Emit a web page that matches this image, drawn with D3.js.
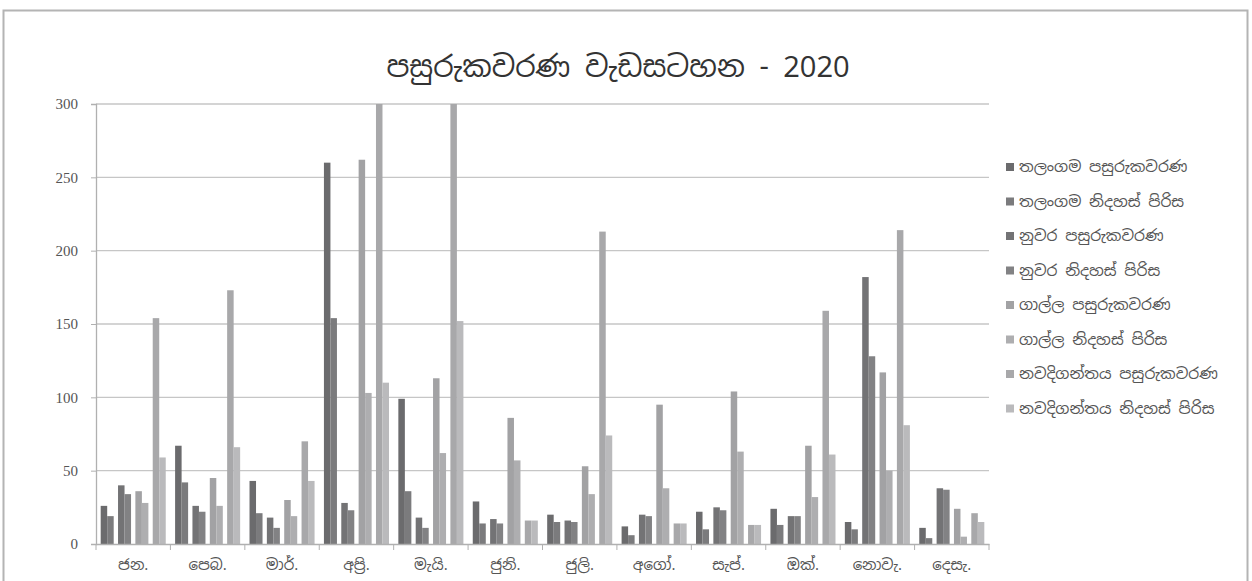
<!DOCTYPE html>
<html>
<head>
<meta charset="utf-8">
<script src="https://cdn.jsdelivr.net/npm/d3@7"></script>
<style>
  body { margin: 0; background: #fff; }
  svg text { font-family: "Noto Sans Sinhala", "Iskoola Pota", "Noto Sans", "DejaVu Sans", sans-serif; }
</style>
</head>
<body>
<svg id="chart" width="1252" height="581"></svg>
<script>
// months on the x axis
const months = ['ජන.', 'පෙබ.', 'මාර්.', 'අප්‍රි.', 'මැයි.', 'ජුනි.', 'ජුලි.', 'අගෝ.', 'සැප්.', 'ඔක්.', 'නොවැ.', 'දෙසැ.'];

const seriesNames = [
	'තලංගම පසුරුකවරණ',
	'තලංගම නිදහස් පිරිස',
	'නුවර පසුරුකවරණ',
	'නුවර නිදහස් පිරිස',
	'ගාල්ල පසුරුකවරණ',
	'ගාල්ල නිදහස් පිරිස',
	'නවදිගන්තය පසුරුකවරණ',
	'නවදිගන්තය නිදහස් පිරිස'
];

// one array per series, Jan..Dec
const talangamaPasuru = [26, 67, 43, 260, 99, 29, 20, 12, 22, 24, 15, 11];
const talangamaNidahas = [19, 42, 21, 154, 36, 14, 15, 6, 10, 13, 10, 4];
const nuwaraPasuru = [40, 26, 18, 28, 18, 17, 16, 20, 25, 19, 182, 38];
const nuwaraNidahas = [34, 22, 11, 23, 11, 14, 15, 19, 23, 19, 128, 37];
const gallePasuru = [36, 45, 30, 262, 113, 86, 53, 95, 104, 67, 117, 24];
const galleNidahas = [28, 26, 19, 103, 62, 57, 34, 38, 63, 32, 50, 5];
const navaPasuru = [154, 173, 70, 320, 320, 16, 213, 14, 13, 159, 214, 21];
const navaNidahas = [59, 66, 43, 110, 152, 16, 74, 14, 13, 61, 81, 15];

const yTicks = [0, 50, 100, 150, 200, 250, 300];

const allSeries = [talangamaPasuru, talangamaNidahas, nuwaraPasuru, nuwaraNidahas,
	gallePasuru, galleNidahas, navaPasuru, navaNidahas];
const colors = ['#6b6b6d', '#7b7b7d', '#737375', '#828284', '#a2a2a4', '#aeaeb0', '#a8a8aa', '#bababc'];

const svg = d3.select('#chart');

// outer frame
svg.append('rect')
	.attr('x', 3.5).attr('y', 10.5)
	.attr('width', 1244).attr('height', 575)
	.attr('fill', 'none')
	.attr('stroke', '#b4b4b4')
	.attr('stroke-width', 2);

svg.append('text')
	.attr('x', 618).attr('y', 77)
	.attr('text-anchor', 'middle')
	.attr('font-size', 29)
	.attr('fill', '#333')
	.text('පසුරුකවරණ වැඩසටහන - 2020');

const plotL = 96, plotR = 989, plotT = 104, plotB = 544;

const x = d3.scaleBand().domain(months).range([plotL, plotR]).padding(0);
// bars come in pairs (pasuru / nidahas) per place
const pairs = d3.scaleBand().domain([0, 1, 2, 3]).range([0, x.bandwidth()])
	.paddingInner(0.25).paddingOuter(0.27);
const inPair = d3.scaleBand().domain([0, 1]).range([0, pairs.bandwidth()]);
const y = d3.scaleLinear().domain([0, 300]).range([plotB, plotT]);

// gridlines
svg.append('g')
	.selectAll('line')
	.data(yTicks.filter(d => d > 0))
	.enter().append('line')
	.attr('x1', plotL).attr('x2', plotR)
	.attr('y1', d => y(d)).attr('y2', d => y(d))
	.attr('stroke', '#c6c6c6')
	.attr('stroke-width', 1.3);

svg.append('clipPath').attr('id', 'plotclip')
	.append('rect')
	.attr('x', plotL).attr('y', plotT)
	.attr('width', plotR - plotL).attr('height', plotB - plotT);

const bars = svg.append('g').attr('clip-path', 'url(#plotclip)');
allSeries.forEach((vals, s) => {
	bars.append('g')
		.selectAll('rect')
		.data(vals)
		.enter().append('rect')
		.attr('x', (d, i) => x(months[i]) + pairs(Math.floor(s / 2)) + inPair(s % 2))
		.attr('width', inPair.bandwidth())
		.attr('y', d => y(d))
		.attr('height', d => y(0) - y(d))
		.attr('fill', colors[s]);
});

// y axis
const yAxis = svg.append('g')
	.attr('transform', `translate(${plotL},0)`)
	.call(d3.axisLeft(y).tickValues(yTicks).tickSize(5).tickPadding(13));
yAxis.select('.domain').attr('stroke', '#b0b0b0').attr('stroke-width', 1.3);
yAxis.selectAll('.tick line').attr('stroke', '#b0b0b0');
yAxis.selectAll('.tick text')
	.attr('font-size', 15)
	.attr('fill', '#555')
	.style('font-family', '"Liberation Serif", serif');

// x axis, ticks sit between the months
const xAxis = svg.append('g')
	.attr('transform', `translate(0,${plotB})`)
	.call(d3.axisBottom(x).tickSize(0).tickPadding(15));
xAxis.select('.domain').attr('stroke', '#b0b0b0').attr('stroke-width', 1.3);
xAxis.selectAll('.tick text')
	.attr('font-size', 15)
	.attr('fill', '#555');
xAxis.append('g')
	.selectAll('line')
	.data(months.concat(['end']))
	.enter().append('line')
	.attr('x1', (d, i) => i < months.length ? x(d) : plotR)
	.attr('x2', (d, i) => i < months.length ? x(d) : plotR)
	.attr('y1', 0).attr('y2', 6)
	.attr('stroke', '#b0b0b0');

// legend
const legend = svg.append('g')
	.selectAll('g')
	.data(seriesNames)
	.enter().append('g')
	.attr('transform', (d, i) => `translate(1006,${167 + i * 34.5})`);
legend.append('rect')
	.attr('x', 0).attr('y', -4)
	.attr('width', 8).attr('height', 8)
	.attr('fill', (d, i) => colors[i]);
legend.append('text')
	.attr('x', 13).attr('y', 5)
	.attr('font-size', 15.5)
	.attr('fill', '#555')
	.text(d => d);
</script>
</body>
</html>
